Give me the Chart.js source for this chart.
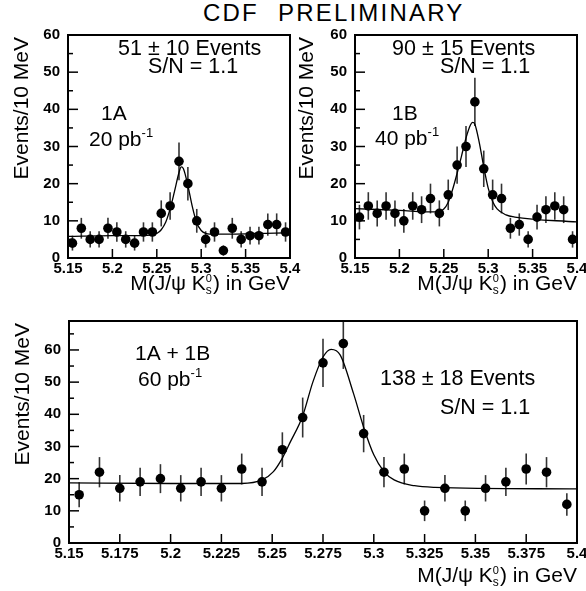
<!DOCTYPE html>
<html><head><meta charset="utf-8">
<script src="https://cdn.jsdelivr.net/npm/chart.js@4.4.0/dist/chart.umd.min.js"></script>
<style>
html,body{margin:0;padding:0;background:#fff;width:586px;height:591px;overflow:hidden;position:relative;}
canvas{position:absolute;left:0;top:0;}
.ttl{position:absolute;top:1px;font:24px "Liberation Sans",Arial,sans-serif;line-height:24px;letter-spacing:2.2px;color:#000;white-space:pre;}
</style></head><body>
<div class="ttl" style="left:203px">CDF</div>
<div class="ttl" style="left:278px">PRELIMINARY</div>
<canvas id="c1" width="620" height="620"></canvas>
<canvas id="c2" width="620" height="620"></canvas>
<canvas id="c3" width="620" height="620"></canvas>
<script>
// ---- data ----
const massBins = [5.155,5.165,5.175,5.185,5.195,5.205,5.215,5.225,5.235,5.245,5.255,5.265,5.275,5.285,5.295,5.305,5.315,5.325,5.335,5.345,5.355,5.365,5.375,5.385,5.395];

const counts1A = [4,8,5,5,8,7,5,4,7,7,12,14,26,20,10,5,7,2,8,5,6,6,9,9,7];
const errors1A = [2,2.8,2.2,2.2,2.8,2.6,2.2,2,2.6,2.6,3.5,3.7,5.1,4.5,3.2,2.2,2.6,1.4,2.8,2.2,2.4,2.4,3,3,2.6];

const counts1B = [11,14,12,14,12,10,14,13,16,12,17,25,30,42,24,17,16,8,9,5,11,13,14,13,5];
const errors1B = [3.3,3.7,3.5,3.7,3.5,3.2,3.7,3.6,4,3.5,4.1,5,5.5,6.5,4.9,4.1,4,2.8,3,2.2,3.3,3.6,3.7,3.6,2.2];

const countsAll = [15,22,17,19,20,17,19,17,23,19,29,39,56,62,34,22,23,10,17,10,17,19,23,22,12];
const errorsAll = [3.9,4.7,4.1,4.4,4.5,4.1,4.4,4.1,4.8,4.4,5.4,6.2,7.5,7.9,5.8,4.7,4.8,3.2,4.1,3.2,4.1,4.4,4.8,4.7,3.5];

const fitMass1A = [5.15,5.2,5.24,5.25,5.255,5.26,5.265,5.27,5.275,5.2775,5.28,5.285,5.29,5.295,5.3,5.305,5.31,5.35,5.4];
const fitVals1A = [5.8,6.0,6.1,6.6,7.6,9.6,13.2,18.0,23.0,24.5,24.0,19.5,13.8,9.4,7.4,6.6,6.4,6.5,6.8];

const fitMass1B = [5.15,5.2,5.24,5.25,5.255,5.26,5.265,5.27,5.275,5.28,5.2825,5.285,5.29,5.295,5.3,5.305,5.31,5.32,5.33,5.4];
const fitVals1B = [13.3,12.8,12.4,13.2,15.0,18.5,22.8,27.5,32.3,35.8,36.5,36.0,31.0,24.5,18.8,15.2,13.2,11.6,11.0,9.7];

const fitMassAll = [5.15,5.2,5.235,5.245,5.2506,5.255,5.259,5.265,5.27,5.275,5.279,5.2835,5.29,5.295,5.3,5.305,5.31,5.32,5.33,5.4];
const fitValsAll = [18.7,18.5,18.5,19.6,22.2,26.4,31.5,39.5,50.0,57.8,60.2,58.4,46.5,36.0,27.4,22.2,19.6,17.8,17.3,16.8];

const xTicksTop = [5.15,5.2,5.25,5.3,5.35,5.4];
const xTicksBottom = [5.15,5.175,5.2,5.225,5.25,5.275,5.3,5.325,5.35,5.375,5.4];
const yTicksMajor = [0,10,20,30,40,50,60];
const yTicksMinorTop = [5,15,25,35,45,55];
const yTicksMinorBottom = [5,15,25,35,45,55,65];

const yTitle = 'Events/10 MeV';
// ---- drawing ----
const FONT = '"Liberation Sans", Arial, sans-serif';
Chart.defaults.color = '#000';

function partWidth(ctx, p) {
  ctx.font = p.size + 'px ' + FONT;
  let w = ctx.measureText(p.t).width;
  if (p.stack) { ctx.font = p.stack.size + 'px ' + FONT; w = Math.max(w, ctx.measureText(p.stack.t).width); }
  return w + (p.gap || 0);
}
function drawRich(ctx, x, y, parts, align, rot) {
  ctx.save();
  ctx.translate(x, y);
  if (rot) ctx.rotate(rot);
  let total = 0;
  parts.forEach(p => total += partWidth(ctx, p));
  let cx = align === 'right' ? -total : 0;
  ctx.textBaseline = 'alphabetic';
  ctx.textAlign = 'left';
  ctx.fillStyle = '#000';
  parts.forEach(p => {
    const w = partWidth(ctx, p);
    ctx.font = p.size + 'px ' + FONT;
    ctx.fillText(p.t, cx, (p.dy || 0));
    if (p.stack) { ctx.font = p.stack.size + 'px ' + FONT; ctx.fillText(p.stack.t, cx, p.stack.dy); }
    cx += w;
  });
  ctx.restore();
}
const massTitle = [
  {t:'M(J/\u03C8 K', size:21},
  {t:'0', size:11, dy:-8, stack:{t:'s', size:12, dy:4}, gap:1},
  {t:') in GeV', size:21}
];

function decoPlugin(cfg) {
  return {
    id: 'deco_' + cfg.id,
    beforeDatasetsDraw(chart) {
      const ctx = chart.ctx, xs = chart.scales.x, ys = chart.scales.y, a = chart.chartArea;
      ctx.save();
      ctx.beginPath(); ctx.rect(a.left, a.top, a.right - a.left, a.bottom - a.top); ctx.clip();
      ctx.strokeStyle = '#333'; ctx.lineWidth = 1.6;
      cfg.binX.forEach((x, i) => {
        const px = xs.getPixelForValue(x);
        ctx.beginPath();
        ctx.moveTo(px, ys.getPixelForValue(cfg.counts[i] - cfg.errs[i]));
        ctx.lineTo(px, ys.getPixelForValue(cfg.counts[i] + cfg.errs[i]));
        ctx.stroke();
      });
      ctx.restore();
    },
    afterDatasetsDraw(chart) {
      const ctx = chart.ctx, xs = chart.scales.x, ys = chart.scales.y, a = chart.chartArea;
      ctx.save();
      ctx.strokeStyle = '#000';
      ctx.lineWidth = 1.5;
      cfg.yMajor.forEach(v => { const py = ys.getPixelForValue(v); ctx.beginPath(); ctx.moveTo(a.left, py); ctx.lineTo(a.left + 10, py); ctx.stroke(); });
      cfg.yMinor.forEach(v => { const py = ys.getPixelForValue(v); ctx.beginPath(); ctx.moveTo(a.left, py); ctx.lineTo(a.left + 5, py); ctx.stroke(); });
      cfg.xTicks.forEach(v => { const px = xs.getPixelForValue(v); ctx.beginPath(); ctx.moveTo(px, a.bottom); ctx.lineTo(px, a.bottom - 9); ctx.stroke(); });
      ctx.lineWidth = 2;
      ctx.strokeRect(a.left, a.top, a.right - a.left, a.bottom - a.top);
      ctx.restore();
    },
    afterDraw(chart) {
      const ctx = chart.ctx;
      cfg.texts.forEach(t => drawRich(ctx, t.x, t.y, t.parts, t.align, t.rot));
    }
  };
}

function makeChart(cfg) {
  const tickFont = {family: FONT, size: 15, weight: 'bold'};
  return new Chart(document.getElementById(cfg.id), {
    type: 'scatter',
    data: { datasets: [
      { type: 'line', data: cfg.fitX.map((x, i) => ({x: x, y: cfg.fitY[i]})), borderColor: '#000', borderWidth: 1.3,
        pointRadius: 0, fill: false, cubicInterpolationMode: 'monotone', order: 2 },
      { data: cfg.binX.map((x, i) => ({x: x, y: cfg.counts[i]})), backgroundColor: '#000', borderColor: '#000',
        pointRadius: 4.8, pointHoverRadius: 4.8, borderWidth: 0, order: 1 }
    ]},
    options: {
      responsive: false, animation: false, devicePixelRatio: 1, events: [],
      layout: { padding: cfg.pad },
      plugins: { legend: {display: false}, tooltip: {enabled: false} },
      scales: {
        x: { type: 'linear', min: cfg.xMin, max: cfg.xMax,
          afterFit: s => { s.height = 25; },
          afterBuildTicks: s => { s.ticks = cfg.xTicks.map(v => ({value: v})); },
          grid: {display: false, drawTicks: false}, border: {display: false},
          ticks: {font: tickFont, color: '#000', padding: 2, maxRotation: 0, autoSkip: false,
            callback: v => String(+(+v).toFixed(3))} },
        y: { type: 'linear', min: 0, max: cfg.yMax,
          afterFit: s => { s.width = 40; },
          afterBuildTicks: s => { s.ticks = cfg.yMajor.map(v => ({value: v})); },
          grid: {display: false, drawTicks: false}, border: {display: false},
          ticks: {font: tickFont, color: '#000', padding: 8, autoSkip: false} }
      }
    },
    plugins: [decoPlugin(cfg)]
  });
}

const rot = -Math.PI / 2;
makeChart({
  id: 'c1', binX: massBins, counts: counts1A, errs: errors1A, fitX: fitMass1A, fitY: fitVals1A,
  xMin: 5.15, xMax: 5.4, yMax: 60, xTicks: xTicksTop, yMajor: yTicksMajor, yMinor: yTicksMinorTop,
  pad: {left: 28, top: 35, right: 330, bottom: 337},
  texts: [
    {x: 118, y: 55, parts: [{t: '51 \u00B1 10 Events', size: 21.5}]},
    {x: 148, y: 73, parts: [{t: 'S/N = 1.1', size: 21.5}]},
    {x: 101, y: 120, parts: [{t: '1A', size: 21}]},
    {x: 89, y: 146, parts: [{t: '20 pb', size: 21}, {t: '-1', size: 13, dy: -9}]},
    {x: 28, y: 37, parts: [{t: yTitle, size: 21}], align: 'right', rot: rot},
    {x: 290, y: 290, parts: massTitle, align: 'right'}
  ]
});
makeChart({
  id: 'c2', binX: massBins, counts: counts1B, errs: errors1B, fitX: fitMass1B, fitY: fitVals1B,
  xMin: 5.15, xMax: 5.4, yMax: 60, xTicks: xTicksTop, yMajor: yTicksMajor, yMinor: yTicksMinorTop,
  pad: {left: 315, top: 35, right: 43, bottom: 337},
  texts: [
    {x: 392, y: 55, parts: [{t: '90 \u00B1 15 Events', size: 21.5}]},
    {x: 440, y: 73, parts: [{t: 'S/N = 1.1', size: 21.5}]},
    {x: 392, y: 120, parts: [{t: '1B', size: 21}]},
    {x: 375, y: 145, parts: [{t: '40 pb', size: 21}, {t: '-1', size: 13, dy: -9}]},
    {x: 313, y: 37, parts: [{t: yTitle, size: 21}], align: 'right', rot: rot},
    {x: 577, y: 290, parts: massTitle, align: 'right'}
  ]
});
makeChart({
  id: 'c3', binX: massBins, counts: countsAll, errs: errorsAll, fitX: fitMassAll, fitY: fitValsAll,
  xMin: 5.15, xMax: 5.4, yMax: 69, xTicks: xTicksBottom, yMajor: yTicksMajor, yMinor: yTicksMinorBottom,
  pad: {left: 29, top: 321, right: 43, bottom: 52},
  texts: [
    {x: 135, y: 360, parts: [{t: '1A + 1B', size: 21}]},
    {x: 138, y: 386, parts: [{t: '60 pb', size: 21}, {t: '-1', size: 13, dy: -9}]},
    {x: 380, y: 385, parts: [{t: '138 \u00B1 18 Events', size: 21.5}]},
    {x: 440, y: 414, parts: [{t: 'S/N = 1.1', size: 21.5}]},
    {x: 29, y: 323, parts: [{t: yTitle, size: 21}], align: 'right', rot: rot},
    {x: 577, y: 582, parts: massTitle, align: 'right'}
  ]
});
</script>
</body></html>
